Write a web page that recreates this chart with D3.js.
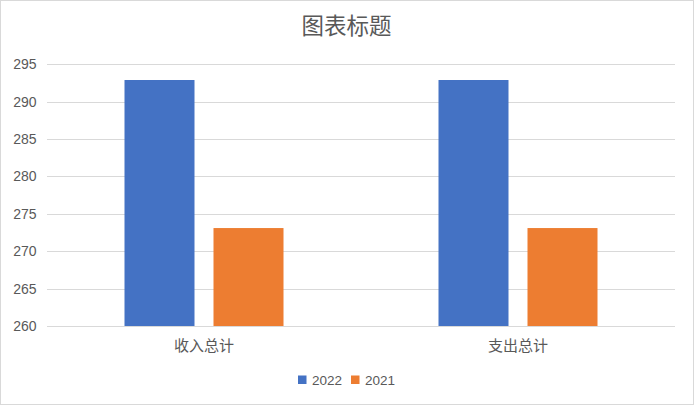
<!DOCTYPE html>
<html><head><meta charset="utf-8">
<script src="https://cdn.jsdelivr.net/npm/d3@7"></script>
<style>body{margin:0;background:#fff}svg{display:block}</style>
</head><body>
<script>
const categories = ["收入总计", "支出总计"];
const seriesNames = ["2022", "2021"];
const values2022 = [292.9, 292.9];
const values2021 = [273.1, 273.1];
const yTicks = [260, 265, 270, 275, 280, 285, 290, 295];
const colors = ["#4472C4", "#ED7D31"];

(function () {
const W = 694, H = 405;
const svg = d3.select("body").append("svg").attr("width", W).attr("height", H);
svg.append("rect").attr("x", 0.5).attr("y", 0.5).attr("width", W - 1).attr("height", H - 1)
  .attr("fill", "#fff").attr("stroke", "#D9D9D9");

const font = "'Noto Sans CJK SC','Microsoft YaHei','Liberation Sans',sans-serif";
const numFont = "'Liberation Sans',Arial,sans-serif";
const pLeft = 47, pRight = 675, pTop = 64.3, pBottom = 326;
const x = d3.scaleBand().domain(categories).range([pLeft, pRight]);
const y = d3.scaleLinear().domain([260, 295]).range([pBottom, pTop]);

svg.append("text").attr("x", 346.5).attr("y", 34).attr("text-anchor", "middle")
  .attr("font-family", font).attr("font-size", 22.5).attr("fill", "#595959").text("图表标题");

const g = svg.append("g");
g.selectAll("line.grid").data(yTicks).join("line")
  .attr("x1", pLeft).attr("x2", pRight)
  .attr("y1", d => Math.round(y(d)) + 0.5).attr("y2", d => Math.round(y(d)) + 0.5)
  .attr("stroke", "#D9D9D9").attr("stroke-width", 1);

g.selectAll("text.ytick").data(yTicks).join("text")
  .attr("x", 36.5).attr("y", d => y(d) + 5).attr("text-anchor", "end")
  .attr("font-family", numFont).attr("font-size", 14).attr("fill", "#595959")
  .text(d => d);

const barW = x.bandwidth() * 70 / 314;
const gap = x.bandwidth() * 19 / 314;
const series = [values2022, values2021];
series.forEach((vals, si) => {
  g.selectAll("rect.s" + si).data(categories).join("rect")
    .attr("x", (c) => x(c) + x.bandwidth() / 2 - barW - gap / 2 + si * (barW + gap))
    .attr("width", barW)
    .attr("y", (c, i) => y(vals[i]))
    .attr("height", (c, i) => pBottom - y(vals[i]))
    .attr("fill", colors[si]);
});

g.selectAll("text.xcat").data(categories).join("text")
  .attr("x", d => x(d) + x.bandwidth() / 2).attr("y", 351).attr("text-anchor", "middle")
  .attr("font-family", font).attr("font-size", 15).attr("fill", "#595959").text(d => d);

const legendX = [298, 351];
seriesNames.forEach((n, i) => {
  svg.append("rect").attr("x", legendX[i]).attr("y", 375.5).attr("width", 8.5).attr("height", 8.5).attr("fill", colors[i]);
  svg.append("text").attr("x", legendX[i] + 14).attr("y", 385)
    .attr("font-family", numFont).attr("font-size", 13.5).attr("fill", "#595959").text(n);
});
})();
</script>
</body></html>
